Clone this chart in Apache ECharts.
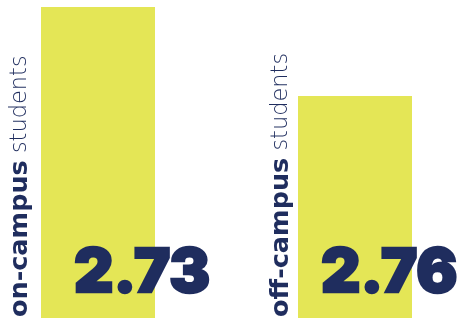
<!DOCTYPE html>
<html><head><meta charset="utf-8">
<script src="https://cdn.jsdelivr.net/npm/echarts@6/dist/echarts.min.js"></script>
<style>html,body{margin:0;padding:0;background:#fff}#c{width:461px;height:318px}</style>
</head><body><div id="c"></div>
<script>
// ---- data ----
var categories = ['on-campus', 'off-campus'];
var categorySuffix = 'students';
var barValues = [100, 71.4];          // relative bar heights
var scoreLabels = ['2.73', '2.76'];

// ---- styling ----
var BAR = '#e4e656';
var NAVY = '#1f2d5e';
var scoreDx = [33, 23];
var nameDx = [-21, -17];

var c = echarts.init(document.getElementById('c'));
c.setOption({
  animation: false,
  grid: { left: 98, right: 106, top: 7, bottom: 0, containLabel: false },
  xAxis: { type: 'category', data: categories, show: false, boundaryGap: false },
  yAxis: { type: 'value', min: 0, max: 100, show: false },
  series: [
    {
      type: 'bar', barWidth: 114, z: 2, clip: false,
      itemStyle: { color: BAR },
      data: barValues.map(function (v, i) {
        return {
          value: v,
          label: {
            show: true,
            position: [scoreDx[i], '100%'],
            offset: [0, -44],
            align: 'left', verticalAlign: 'middle',
            formatter: scoreLabels[i],
            fontFamily: 'Inter', fontWeight: 900, fontSize: 61,
            color: NAVY,
            textBorderColor: NAVY, textBorderWidth: 2.5
          }
        };
      })
    },
    {
      type: 'bar', barWidth: 114, barGap: '-100%', z: 1, clip: false,
      itemStyle: { color: 'rgba(0,0,0,0)' },
      data: barValues.map(function (v, i) {
        return {
          value: v,
          label: {
            show: true,
            position: [nameDx[i], '100%'],
            offset: [1, 0],
            rotate: 90,
            align: 'left', verticalAlign: 'middle',
            formatter: '{b|' + categories[i] + '}{l| ' + categorySuffix + '}',
            rich: {
              b: { fontFamily: 'DejaVu Sans', fontWeight: 'bold', fontSize: 25.5, color: NAVY },
              l: { fontFamily: 'DejaVu Sans', fontWeight: 200, fontSize: 22.5, color: NAVY }
            }
          }
        };
      })
    }
  ]
});
</script></body></html>
